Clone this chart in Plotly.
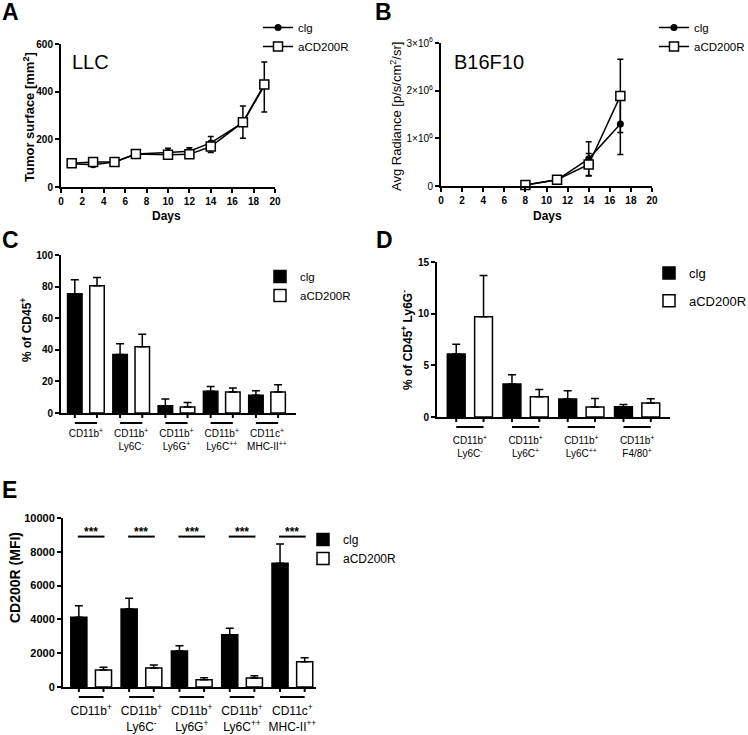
import plotly.graph_objects as go

W, H = 748, 735
FONT = "Liberation Sans, Arial, sans-serif"

# ---------------- data ----------------
# Panel A: LLC tumor surface
days_a = [1, 3, 5, 7, 10, 12, 14, 17, 19]
llc_clg = [98, 93, 105, 138, 145, 150, 185, 270, 425]
llc_clg_err = [6, 8, 5, 5, 18, 15, 27, 70, 100]
llc_acd = [100, 105, 105, 138, 135, 137, 170, 272, 430]
llc_acd_err = [6, 8, 5, 5, 10, 10, 25, 67, 115]

# Panel B: B16F10 avg radiance
days_b = [8, 11, 14, 17]
b16_clg = [0.02e6, 0.13e6, 0.57e6, 1.30e6]
b16_clg_err = [0.01e6, 0.02e6, 0.36e6, 0.64e6]
b16_acd = [0.02e6, 0.13e6, 0.45e6, 1.89e6]
b16_acd_err = [0.01e6, 0.02e6, 0.23e6, 0.77e6]
b_tickvals = [0, 1e6, 2e6, 3e6]
b_ticktext = ["0", "1×10<sup>6</sup>", "2×10<sup>6</sup>", "3×10<sup>6</sup>"]

# Panel C: % of CD45+
cats_c = ["CD11b<sup>+</sup>", "CD11b<sup>+</sup><br>Ly6C<sup>-</sup>",
          "CD11b<sup>+</sup><br>Ly6G<sup>+</sup>", "CD11b<sup>+</sup><br>Ly6C<sup>++</sup>",
          "CD11c<sup>+</sup><br>MHC-II<sup>++</sup>"]
c_clg = [75.5, 37, 4.6, 13.7, 11.3]
c_clg_err = [8.8, 6.8, 4.2, 3.1, 2.8]
c_acd = [80.6, 42, 3.8, 13.3, 13.3]
c_acd_err = [5.1, 7.9, 2.9, 2.5, 4.6]

# Panel D: % of CD45+ Ly6G-
cats_d = ["CD11b<sup>+</sup><br>Ly6C<sup>-</sup>", "CD11b<sup>+</sup><br>Ly6C<sup>+</sup>",
          "CD11b<sup>+</sup><br>Ly6C<sup>++</sup>", "CD11b<sup>+</sup><br>F4/80<sup>+</sup>"]
d_clg = [6.1, 3.2, 1.75, 1.0]
d_clg_err = [0.95, 0.9, 0.8, 0.2]
d_acd = [9.7, 1.97, 0.97, 1.36]
d_acd_err = [4.0, 0.68, 0.82, 0.4]

# Panel E: CD200R (MFI)
cats_e = cats_c
e_clg = [4120, 4615, 2130, 3097, 7318]
e_clg_err = [690, 630, 316, 374, 1144]
e_acd = [1006, 1124, 434, 533, 1499]
e_acd_err = [158, 178, 118, 137, 237]
e_sig = ["***", "***", "***", "***", "***"]
e_sig_y = 8900
e_tickvals = [0, 2000, 4000, 6000, 8000, 10000]
e_ticktext = ["0", "2000", "4000", "6000", "8000", "10000"]

series = ["clg", "aCD200R"]

# ---------------- helpers ----------------
def px(x):
    return x / W

def py(y):
    return 1 - y / H

fig = go.Figure()

tick_font = dict(family=FONT, size=10, color="black", weight="bold")

def ax_common():
    return dict(showline=True, linewidth=2, linecolor="black", ticks="outside",
                ticklen=4, tickwidth=2, tickcolor="black", showgrid=False,
                zeroline=False, tickfont=tick_font, automargin=False, fixedrange=True)

# ---------- Panel A ----------
fig.add_trace(go.Scatter(x=days_a, y=llc_clg, name=series[0], mode="lines+markers",
                         line=dict(color="black", width=1.5),
                         marker=dict(symbol="circle", size=7, color="black"),
                         error_y=dict(type="data", array=llc_clg_err, arrayminus=[0]*len(llc_clg_err),
                                      symmetric=False, color="black", thickness=1.5, width=3),
                         xaxis="x", yaxis="y", legend="legend", cliponaxis=False))
fig.add_trace(go.Scatter(x=days_a, y=llc_acd, name=series[1], mode="lines+markers",
                         line=dict(color="black", width=1.5),
                         marker=dict(symbol="square", size=9, color="white",
                                     line=dict(color="black", width=1.5)),
                         error_y=dict(type="data", array=[0]*len(llc_acd_err), arrayminus=llc_acd_err,
                                      symmetric=False, color="black", thickness=1.5, width=3),
                         xaxis="x", yaxis="y", legend="legend", cliponaxis=False))

# ---------- Panel B ----------
fig.add_trace(go.Scatter(x=days_b, y=b16_clg, name=series[0], mode="lines+markers",
                         line=dict(color="black", width=1.5),
                         marker=dict(symbol="circle", size=7, color="black"),
                         error_y=dict(type="data", array=b16_clg_err, color="black",
                                      thickness=1.5, width=3),
                         xaxis="x2", yaxis="y2", legend="legend2", cliponaxis=False))
fig.add_trace(go.Scatter(x=days_b, y=b16_acd, name=series[1], mode="lines+markers",
                         line=dict(color="black", width=1.5),
                         marker=dict(symbol="square", size=9, color="white",
                                     line=dict(color="black", width=1.5)),
                         error_y=dict(type="data", array=b16_acd_err, color="black",
                                      thickness=1.5, width=3),
                         xaxis="x2", yaxis="y2", legend="legend2", cliponaxis=False))

# ---------- Bar panels ----------
BW = 0.32
OFF_L, OFF_R = -0.405, 0.085
C1, C2 = OFF_L + BW / 2, OFF_R + BW / 2

def add_bars(cats, clg, clg_err, acd, acd_err, xa, ya, leg, group_prefix):
    fig.add_trace(go.Bar(x=cats, y=clg, name=series[0], width=BW, offset=OFF_L,
                         marker=dict(color="black", line=dict(color="black", width=1.5)),
                         error_y=dict(type="data", array=clg_err, arrayminus=[0]*len(clg_err),
                                      symmetric=False, color="black", thickness=1.5, width=4),
                         xaxis=xa, yaxis=ya, legend=leg, legendgroup=group_prefix + "a"))
    fig.add_trace(go.Bar(x=cats, y=acd, name=series[1], width=BW, offset=OFF_R,
                         marker=dict(color="white", line=dict(color="black", width=1.5)),
                         error_y=dict(type="data", array=acd_err, arrayminus=[0]*len(acd_err),
                                      symmetric=False, color="black", thickness=1.5, width=4),
                         xaxis=xa, yaxis=ya, legend=leg, legendgroup=group_prefix + "b"))

add_bars(cats_c, c_clg, c_clg_err, c_acd, c_acd_err, "x3", "y3", "legend3", "c")
add_bars(cats_d, d_clg, d_clg_err, d_acd, d_acd_err, "x4", "y4", "legend4", "d")
add_bars(cats_e, e_clg, e_clg_err, e_acd, e_acd_err, "x5", "y5", "legend5", "e")

# ---------------- domains (pixel based) ----------------
dom = {
    "A": ([px(61), px(275)], [py(187), py(44)]),
    "B": ([px(441), px(652)], [py(186), py(43)]),
    "C": ([px(61), px(296)], [py(413), py(255)]),
    "D": ([px(437), px(670)], [py(417), py(262)]),
    "E": ([px(63), px(316)], [py(687), py(518)]),
}

layout = dict(
    width=W, height=H, margin=dict(l=0, r=0, t=0, b=0, autoexpand=False),
    paper_bgcolor="white", plot_bgcolor="white",
    font=dict(family=FONT, color="black"),
    barmode="overlay",
)

xa = ax_common(); xa.update(domain=dom["A"][0], anchor="y", range=[0, 20], tickvals=list(range(0, 21, 2)))
ya = ax_common(); ya.update(domain=dom["A"][1], anchor="x", range=[0, 600], tickvals=[0, 200, 400, 600])
xb = ax_common(); xb.update(domain=dom["B"][0], anchor="y2", range=[0, 20], tickvals=list(range(0, 21, 2)))
yb = ax_common(); yb.update(domain=dom["B"][1], anchor="x2", range=[0, 3e6], tickvals=b_tickvals,
                            ticktext=b_ticktext, tickfont=dict(family=FONT, size=10, color="black"))

def cat_x(domain, anchor, rng, standoff, size):
    a = ax_common()
    a.update(domain=domain, anchor=anchor, type="category", range=rng,
             ticks="", ticklabelstandoff=standoff,
             tickfont=dict(family=FONT, size=size, color="black"))
    return a

xc = cat_x(dom["C"][0], "y3", [-0.55, len(cats_c) - 0.36], 10, 10)
yc = ax_common(); yc.update(domain=dom["C"][1], anchor="x3", range=[0, 100], tickvals=[0, 20, 40, 60, 80, 100])
xd = cat_x(dom["D"][0], "y4", [-0.59, len(cats_d) - 0.41], 13, 10)
yd = ax_common(); yd.update(domain=dom["D"][1], anchor="x4", range=[0, 15], tickvals=[0, 5, 10, 15])
xe = cat_x(dom["E"][0], "y5", [-0.56, len(cats_e) - 0.53], 12, 12)
ye = ax_common(); ye.update(domain=dom["E"][1], anchor="x5", range=[0, 10000],
                            tickvals=e_tickvals, ticktext=e_ticktext,
                            tickfont=dict(family=FONT, size=11, color="black", weight="bold"))

layout.update(xaxis=xa, yaxis=ya, xaxis2=xb, yaxis2=yb, xaxis3=xc, yaxis3=yc,
              xaxis4=xd, yaxis4=yd, xaxis5=xe, yaxis5=ye)

# legends
def leg(x, y, size=12, gap=0):
    return dict(x=px(x), y=py(y), xanchor="left", yanchor="top", bgcolor="rgba(0,0,0,0)",
                font=dict(family=FONT, size=size, color="black"), itemwidth=30,
                tracegroupgap=gap, traceorder="normal")

layout.update(legend=leg(258, 13, size=11.5), legend2=leg(654, 13, size=11.5),
              legend3=leg(260, 262, size=11.5), legend4=leg(649, 258, size=13, gap=8),
              legend5=leg(303, 525))
layout["legend4"]["traceorder"] = "grouped"

fig.update_layout(**layout)

# ---------------- shapes: ticks under bars & group lines ----------------
shapes = []
def bar_decor(n, xa_name, ya_name, plot_h_px):
    tick = 5 / plot_h_px
    line_y = 10 / plot_h_px
    for i in range(n):
        for c in (C1, C2):
            shapes.append(dict(type="line", xref=xa_name, yref=ya_name + " domain",
                               x0=i + c, x1=i + c, y0=0, y1=-tick,
                               line=dict(color="black", width=2)))
        shapes.append(dict(type="line", xref=xa_name, yref=ya_name + " domain",
                           x0=i + C1, x1=i + C2, y0=-line_y, y1=-line_y,
                           line=dict(color="black", width=2)))

bar_decor(len(cats_c), "x3", "y3", 158)
bar_decor(len(cats_d), "x4", "y4", 155)
bar_decor(len(cats_e), "x5", "y5", 169)

# significance lines in E
annotations = []
for i, s in enumerate(e_sig):
    shapes.append(dict(type="line", xref="x5", yref="y5", x0=i + C1 - 0.02, x1=i + C2 + 0.02,
                       y0=e_sig_y, y1=e_sig_y, line=dict(color="black", width=2)))
    annotations.append(dict(x=i + (C1 + C2) / 2, y=e_sig_y, xref="x5", yref="y5", text=s,
                            showarrow=False, yanchor="bottom", yshift=-4,
                            font=dict(family=FONT, size=12, color="black", weight="bold")))

fig.update_layout(shapes=shapes)

# ---------------- text annotations ----------------
def ann(text, x, y, size=11, bold=True, angle=0, xanchor="center", yanchor="middle"):
    annotations.append(dict(text=text, x=px(x), y=py(y), xref="paper", yref="paper",
                            showarrow=False, textangle=angle, xanchor=xanchor, yanchor=yanchor,
                            font=dict(family=FONT, size=size, color="black",
                                      weight="bold" if bold else "normal")))

# panel letters
ann("A", 0, 12, size=23, xanchor="left")
ann("B", 373, 12, size=23, xanchor="left")
ann("C", 0, 240, size=23, xanchor="left")
ann("D", 374, 240, size=23, xanchor="left")
ann("E", 0, 490, size=23, xanchor="left")

# inset titles
ann("LLC", 70, 62, size=20, bold=False, xanchor="left")
ann("B16F10", 452, 62, size=20, bold=False, xanchor="left")

# axis titles
ann("Tumor surface [mm<sup>2</sup>]", 29, 117, size=13, angle=-90)
ann("Avg Radiance [p/s/cm<sup>2</sup>/sr]", 396, 117, size=13, bold=False, angle=-90)
ann("Days", 166, 216, size=12)
ann("Days", 547, 216, size=12)
ann("% of CD45<sup>+</sup>", 26, 330, size=12, angle=-90)
ann("% of CD45<sup>+</sup> Ly6G<sup>-</sup>", 407, 340, size=12, angle=-90)
ann("CD200R (MFI)", 15, 578, size=14, angle=-90)

fig.update_layout(annotations=annotations)

fig.write_html("out.html", config={"displayModeBar": False},
               post_script="document.body.style.margin='0';"
                           "document.body.style.overflow='hidden';"
                           "document.documentElement.style.overflow='hidden';")
